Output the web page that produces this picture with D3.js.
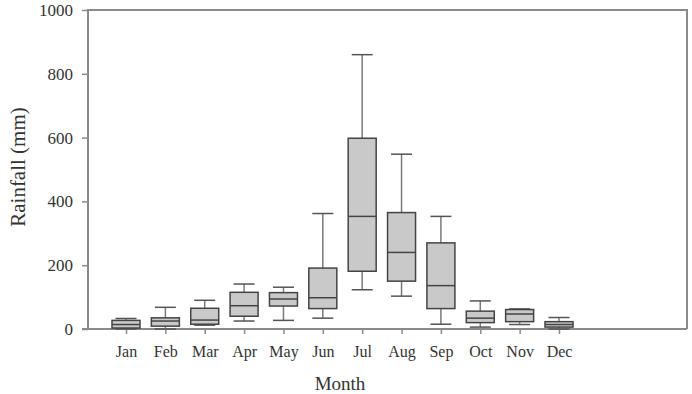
<!DOCTYPE html>
<html>
<head>
<meta charset="utf-8">
<script src="https://cdn.jsdelivr.net/npm/d3@7"></script>
<style>
  body { margin: 0; background: #fff; }
  svg text { font-family: "Liberation Serif", "DejaVu Serif", serif; fill: #333; }
</style>
</head>
<body>
<svg id="chart" width="692" height="394"></svg>
<script>
// rainfall per month, box plot stats (mm)
let months = ['Jan', 'Feb', 'Mar', 'Apr', 'May', 'Jun', 'Jul', 'Aug', 'Sep', 'Oct', 'Nov', 'Dec'];
let mins    = [0, 0, 12, 25, 27, 34, 123, 103, 15, 6, 14, 0];
let q1s     = [3, 9, 15, 40, 72, 64, 181, 150, 64, 20, 23, 6];
let medians = [14, 25, 28, 73, 94, 98, 353, 240, 136, 34, 47, 14];
let q3s     = [27, 35, 65, 115, 114, 191, 598, 365, 270, 56, 61, 23];
let maxs    = [33, 68, 90, 141, 131, 362, 860, 548, 353, 88, 63, 36];
let yTicks  = [0, 200, 400, 600, 800, 1000];

let plotLeft = 88, plotRight = 687, plotTop = 10, plotBottom = 329;
let boxW = 28, capW = 21;

let svg = d3.select('#chart');

let x = d3.scalePoint()
			.domain(months)
			.range([126, 559]);

let y = d3.scaleLinear()
			.domain([0, 1000])
			.range([plotBottom, plotTop]);

let data = months.map((m, i) => ({
	m: m, min: mins[i], q1: q1s[i], med: medians[i], q3: q3s[i], max: maxs[i]
}));

// frame
svg.append('path')
	.attr('d', `M${plotLeft},${plotBottom}V${plotTop}H${plotRight}V${plotBottom}`)
	.attr('fill', 'none')
	.attr('stroke', '#8a8a8a')
	.attr('stroke-width', 2);

// y axis
let yAxis = svg.append('g')
	.attr('transform', `translate(${plotLeft},0)`)
	.call(d3.axisLeft(y).tickValues(yTicks).tickFormat(d3.format('d')).tickSize(6).tickPadding(9))
	.attr('font-family', '"Liberation Serif", serif')
	.attr('font-size', 17);
yAxis.select('.domain').remove();
yAxis.selectAll('line').attr('stroke', '#8a8a8a').attr('stroke-width', 1.5);
yAxis.selectAll('text').attr('fill', '#333');

// x axis
let xAxis = svg.append('g')
	.attr('transform', `translate(0,${plotBottom})`)
	.call(d3.axisBottom(x).tickSize(5).tickPadding(12))
	.attr('font-family', '"Liberation Serif", serif')
	.attr('font-size', 16);
xAxis.select('.domain').remove();
xAxis.selectAll('line').attr('stroke', '#8a8a8a').attr('stroke-width', 1.5);
xAxis.selectAll('text').attr('fill', '#333');

svg.append('line')
	.attr('x1', 82).attr('x2', plotRight)
	.attr('y1', plotBottom).attr('y2', plotBottom)
	.attr('stroke', '#8a8a8a')
	.attr('stroke-width', 2);

// boxes
let box = svg.selectAll('g.box')
	.data(data)
	.enter().append('g')
		.attr('class', 'box')
		.attr('transform', d => 'translate(' + x(d.m) + ',0)');

// whiskers
box.append('line')
	.attr('y1', d => y(d.q3)).attr('y2', d => y(d.max))
	.attr('stroke', '#7a7a7a').attr('stroke-width', 1.5);
box.append('line')
	.attr('y1', d => y(d.q1)).attr('y2', d => y(d.min))
	.attr('stroke', '#7a7a7a').attr('stroke-width', 1.5);
box.append('line')
	.attr('x1', -capW / 2).attr('x2', capW / 2)
	.attr('y1', d => y(d.max)).attr('y2', d => y(d.max))
	.attr('stroke', '#555').attr('stroke-width', 1.5);
box.append('line')
	.attr('x1', -capW / 2).attr('x2', capW / 2)
	.attr('y1', d => y(d.min)).attr('y2', d => y(d.min))
	.attr('stroke', '#555').attr('stroke-width', 1.5);

box.append('rect')
	.attr('x', -boxW / 2)
	.attr('width', boxW)
	.attr('y', d => y(d.q3))
	.attr('height', d => y(d.q1) - y(d.q3))
	.attr('fill', '#c9c9c9')
	.attr('stroke', '#444')
	.attr('stroke-width', 1.5);

box.append('line')
	.attr('x1', -boxW / 2).attr('x2', boxW / 2)
	.attr('y1', d => y(d.med)).attr('y2', d => y(d.med))
	.attr('stroke', '#444').attr('stroke-width', 1.5);

// titles
svg.append('text')
	.attr('x', 340).attr('y', 390)
	.attr('text-anchor', 'middle')
	.style('font-size', '19px')
	.text('Month');

svg.append('text')
	.attr('transform', 'translate(25,167) rotate(-90)')
	.attr('text-anchor', 'middle')
	.style('font-size', '21px')
	.text('Rainfall (mm)');
</script>
</body>
</html>
